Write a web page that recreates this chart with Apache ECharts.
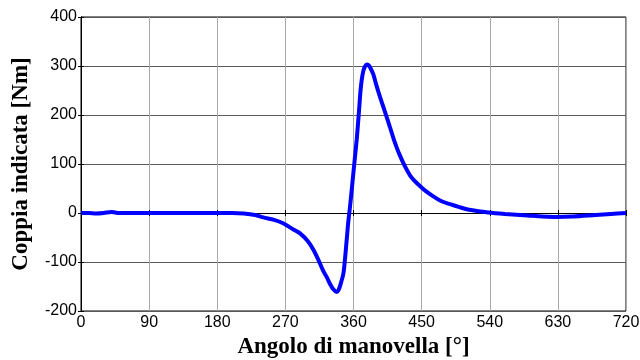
<!DOCTYPE html>
<html>
<head>
<meta charset="utf-8">
<script src="https://cdn.jsdelivr.net/npm/echarts@6/dist/echarts.min.js"></script>
<style>
  html, body { margin: 0; padding: 0; background: #fff; }
  #main { width: 640px; height: 360px; }
</style>
</head>
<body>
<div id="main"></div>
<script>
// crank angle [deg]
const angle = [0, 10, 20, 30, 40, 45, 50, 90, 180, 200, 215, 230, 241, 255, 267, 280, 289, 300, 307, 314, 320, 325, 329, 333, 337.5, 340, 343, 346.7, 349, 351, 353, 355.4, 357.5, 359.8, 362, 364.2, 366, 367.7, 369, 370.8, 373, 375.2, 377.5, 379.6, 382, 386.2, 390, 395, 400, 404, 408, 412.7, 417, 421.4, 428, 434.6, 441, 447.8, 456, 465.4, 475, 487.6, 500, 515, 538, 560, 590, 610, 629, 650, 680, 700, 720];
// indicated torque [Nm]
const torque = [0, 0, -1, 0, 2, 1, 0, 0, 0, 0, -1, -4, -9, -14, -21, -33, -41, -58, -75, -97, -118, -132, -145, -155, -161, -158, -145, -123, -90, -55, -20, 13, 45, 81, 115, 149, 183, 217, 245, 271, 290, 299, 303, 302, 297, 283, 262, 237, 214, 195, 176, 153, 134, 117, 95, 77, 65, 55, 44, 34, 25, 18, 12, 6, 1, -2, -5, -7, -8, -7, -4, -2, 0];

const xTicks = [0, 90, 180, 270, 360, 450, 540, 630, 720];

const titleFont = { fontFamily: 'Liberation Serif', fontWeight: 'bold', fontSize: 23, color: '#000' };
const tickFont = { fontFamily: 'Liberation Sans', fontSize: 16, color: '#000' };

const chart = echarts.init(document.getElementById('main'));
chart.setOption({
  animation: false,
  grid: {
    left: 81, right: 14, top: 17, bottom: 49,
    containLabel: false, outerBoundsMode: 'none',
    show: true, borderColor: '#000', borderWidth: 1, backgroundColor: '#fff'
  },
  xAxis: [{
    type: 'value', min: 0, max: 720, interval: 90,
    name: 'Angolo di manovella [°]', nameLocation: 'middle', nameGap: 25,
    nameTextStyle: titleFont,
    axisLine: { show: true, lineStyle: { color: '#000', width: 1 } },
    axisTick: { show: true, inside: true, length: 3, lineStyle: { color: '#000' } },
    axisLabel: Object.assign({ margin: 4, formatter: v => xTicks.includes(v) ? String(v) : '' }, tickFont),
    splitLine: { show: true, lineStyle: { color: '#a8a8a8', width: 1 } }
  }, {
    type: 'value', min: 0, max: 720, interval: 90, position: 'top',
    axisLine: { show: true, lineStyle: { color: '#000', width: 1 } },
    axisTick: { show: true, inside: true, length: 3, lineStyle: { color: '#000' } },
    axisLabel: { show: false },
    splitLine: { show: false }
  }],
  yAxis: [{
    type: 'value', min: -200, max: 400, interval: 100,
    name: 'Coppia indicata [Nm]', nameLocation: 'middle', nameGap: 48,
    nameTextStyle: titleFont,
    axisLine: { show: true, lineStyle: { color: '#000', width: 1 } },
    axisTick: { show: true, inside: true, length: 3, lineStyle: { color: '#000' } },
    axisLabel: Object.assign({ margin: 4 }, tickFont),
    splitLine: { show: true, lineStyle: { color: '#5a5a5a', width: 1 } }
  }, {
    type: 'value', min: -200, max: 400, interval: 100, position: 'right',
    axisLine: { show: true, lineStyle: { color: '#000', width: 1 } },
    axisTick: { show: true, inside: true, length: 3, lineStyle: { color: '#000' } },
    axisLabel: { show: false },
    splitLine: { show: false }
  }],
  series: [{
    type: 'line',
    data: angle.map((a, i) => [a, torque[i]]),
    smooth: 0.3,
    symbol: 'none',
    lineStyle: { color: '#0000ff', width: 4 }
  }]
});
</script>
</body>
</html>
